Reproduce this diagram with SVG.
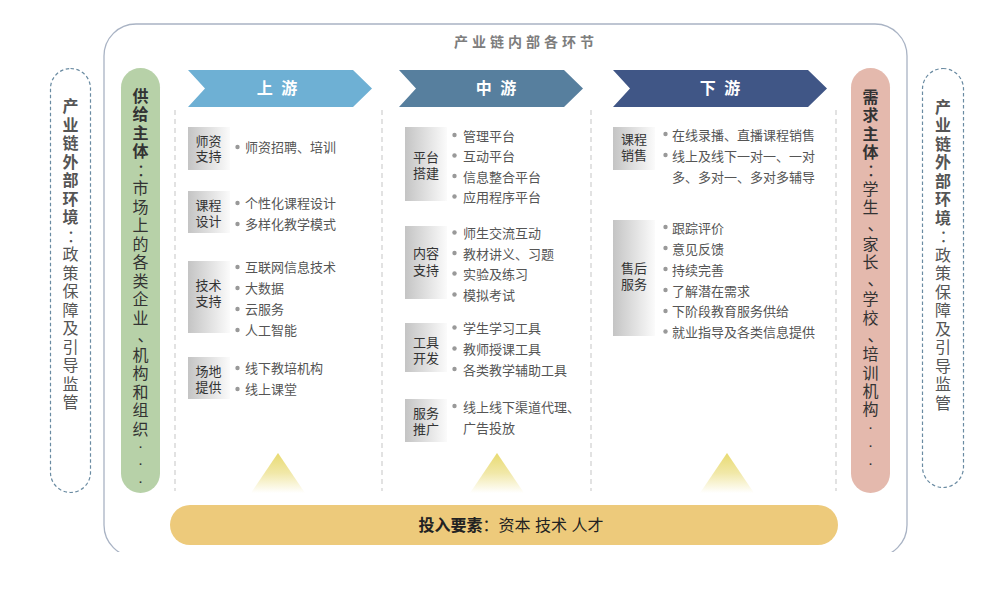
<svg xmlns="http://www.w3.org/2000/svg" width="1006" height="592" viewBox="0 0 1006 592">
<defs>
<linearGradient id="gBox" x1="0" y1="0" x2="1" y2="0">
<stop offset="0" stop-color="#c4c4c4"/>
<stop offset="1" stop-color="#fbfbfb"/>
</linearGradient>
<linearGradient id="gTri" x1="0" y1="0" x2="0" y2="1">
<stop offset="0" stop-color="#e8da70"/>
<stop offset="0.5" stop-color="#f1e8a8"/>
<stop offset="1" stop-color="#ffffff"/>
</linearGradient>
<clipPath id="clipFrame"><rect x="0" y="0" width="1006" height="552"/></clipPath>
</defs>
<style>
text{font-family:"Liberation Sans","Noto Sans CJK SC",sans-serif;}
.frame{fill:none;stroke:#a9b3c4;stroke-width:1.3;}
.outer{fill:#fff;stroke:#6a8ba2;stroke-width:1.2;stroke-dasharray:3.5 2.5;}
.vline{stroke:#cfcfcf;stroke-width:1.2;stroke-dasharray:5 4;}
.box{fill:url(#gBox);}
.cat{font-size:13px;fill:#333;text-anchor:middle;}
.item{font-size:13px;fill:#555;}
.dot{fill:#999;}
.vt{font-size:16px;text-anchor:middle;}
.vdots{font-size:11px;font-weight:bold;text-anchor:middle;fill:#333;}
.vgray{fill:#555;}
.vdark{fill:#333;}
.b{font-weight:bold;}
.chev{font-size:16px;font-weight:bold;fill:#fff;text-anchor:middle;letter-spacing:2px;}
.tri{fill:url(#gTri);}
</style>

<g id="frame" clip-path="url(#clipFrame)">
<rect class="frame" x="104" y="24" width="803" height="533" rx="32" ry="32"/>
</g>
<text id="title" x="454" y="47" style="font-size:14px;font-weight:bold;fill:#7d7d7d;letter-spacing:4px;">产业链内部各环节</text>

<g id="connectors">
<line class="vline" x1="175" y1="110" x2="175" y2="491"/>
<line class="vline" x1="382" y1="110" x2="382" y2="491"/>
<line class="vline" x1="591" y1="110" x2="591" y2="491"/>
<line class="vline" x1="836" y1="110" x2="836" y2="491"/>
</g>

<g id="ext-left">
<rect class="outer" x="50.5" y="68.5" width="40" height="424" rx="20" ry="20"/>
<text class="vt vgray">
<tspan class="b" x="70.5" y="112">产</tspan><tspan class="b" x="70.5" y="130.5">业</tspan><tspan class="b" x="70.5" y="149">链</tspan><tspan class="b" x="70.5" y="167.5">外</tspan><tspan class="b" x="70.5" y="186">部</tspan><tspan class="b" x="70.5" y="204.5">环</tspan><tspan class="b" x="70.5" y="223">境</tspan><tspan x="75" y="241.5">：</tspan><tspan x="70.5" y="260">政</tspan><tspan x="70.5" y="278.5">策</tspan><tspan x="70.5" y="297">保</tspan><tspan x="70.5" y="315.5">障</tspan><tspan x="70.5" y="334">及</tspan><tspan x="70.5" y="352.5">引</tspan><tspan x="70.5" y="371">导</tspan><tspan x="70.5" y="389.5">监</tspan><tspan x="70.5" y="408">管</tspan>
</text>
</g>

<g id="supply">
<rect x="121" y="68" width="39" height="425" rx="19.5" ry="19.5" fill="#b7d1a8"/>
<text class="vt vdark">
<tspan class="b" x="140.5" y="101.5">供</tspan><tspan class="b" x="140.5" y="120">给</tspan><tspan class="b" x="140.5" y="138.5">主</tspan><tspan class="b" x="140.5" y="157">体</tspan><tspan x="145" y="175.5">：</tspan><tspan x="140.5" y="194">市</tspan><tspan x="140.5" y="212.5">场</tspan><tspan x="140.5" y="231">上</tspan><tspan x="140.5" y="249.5">的</tspan><tspan x="140.5" y="268">各</tspan><tspan x="140.5" y="286.5">类</tspan><tspan x="140.5" y="305">企</tspan><tspan x="140.5" y="323.5">业</tspan><tspan x="145.5" y="341">、</tspan><tspan x="140.5" y="360.5">机</tspan><tspan x="140.5" y="379">构</tspan><tspan x="140.5" y="397.5">和</tspan><tspan x="140.5" y="416">组</tspan><tspan x="140.5" y="434.5">织</tspan>
</text>
<text class="vdots"><tspan x="140.5" y="447.5">.</tspan><tspan x="140.5" y="465">.</tspan><tspan x="140.5" y="482.5">.</tspan></text>
</g>

<g id="demand">
<rect x="851" y="68" width="39" height="425" rx="19.5" ry="19.5" fill="#e4b9ad"/>
<text class="vt vdark">
<tspan class="b" x="870.5" y="102.5">需</tspan><tspan class="b" x="870.5" y="121">求</tspan><tspan class="b" x="870.5" y="139.5">主</tspan><tspan class="b" x="870.5" y="158">体</tspan><tspan x="875" y="176">：</tspan><tspan x="870.5" y="194.5">学</tspan><tspan x="870.5" y="213">生</tspan><tspan x="875.5" y="230">、</tspan><tspan x="870.5" y="249.5">家</tspan><tspan x="870.5" y="268">长</tspan><tspan x="875.5" y="285">、</tspan><tspan x="870.5" y="305">学</tspan><tspan x="870.5" y="323.5">校</tspan><tspan x="875.5" y="340.5">、</tspan><tspan x="870.5" y="360">培</tspan><tspan x="870.5" y="378.5">训</tspan><tspan x="870.5" y="397">机</tspan><tspan x="870.5" y="415">构</tspan>
</text>
<text class="vdots"><tspan x="870.5" y="429">.</tspan><tspan x="870.5" y="447">.</tspan><tspan x="870.5" y="465">.</tspan></text>
</g>

<g id="ext-right">
<rect class="outer" x="922.5" y="68.5" width="41" height="419" rx="20.5" ry="20.5"/>
<text class="vt vgray">
<tspan class="b" x="943" y="112.5">产</tspan><tspan class="b" x="943" y="131">业</tspan><tspan class="b" x="943" y="149.5">链</tspan><tspan class="b" x="943" y="168">外</tspan><tspan class="b" x="943" y="186.5">部</tspan><tspan class="b" x="943" y="205">环</tspan><tspan class="b" x="943" y="223.5">境</tspan><tspan x="947.5" y="242">：</tspan><tspan x="943" y="260.5">政</tspan><tspan x="943" y="279">策</tspan><tspan x="943" y="297.5">保</tspan><tspan x="943" y="316">障</tspan><tspan x="943" y="334.5">及</tspan><tspan x="943" y="353">引</tspan><tspan x="943" y="371.5">导</tspan><tspan x="943" y="390">监</tspan><tspan x="943" y="408.5">管</tspan>
</text>
</g>

<g id="upstream-head">
<polygon points="188,70 353,70 372,88.5 353,107 188,107 205,88.5" fill="#6eb0d4"/>
<text class="chev" x="278" y="94">上 游</text>
</g>
<g id="midstream-head">
<polygon points="399,70 564,70 583,88.5 564,107 399,107 416,88.5" fill="#577f9e"/>
<text class="chev" x="497" y="94">中 游</text>
</g>
<g id="downstream-head">
<polygon points="613,70 808,70 827,88.5 808,107 613,107 630,88.5" fill="#405686"/>
<text class="chev" x="721" y="94">下 游</text>
</g>

<g id="up-teacher">
<rect class="box" x="188" y="127" width="42" height="43"/>
<text class="cat"><tspan x="208.5" y="145.5">师资</tspan><tspan x="208.5" y="161">支持</tspan></text>
<circle class="dot" cx="237.5" cy="147" r="2.2"/>
<text class="item" x="245" y="152">师资招聘、培训</text>
</g>
<g id="up-course">
<rect class="box" x="188" y="191" width="42" height="42"/>
<text class="cat"><tspan x="208.5" y="210">课程</tspan><tspan x="208.5" y="226">设计</tspan></text>
<circle class="dot" cx="237.5" cy="203" r="2.2"/>
<circle class="dot" cx="237.5" cy="224" r="2.2"/>
<text class="item"><tspan x="245" y="208">个性化课程设计</tspan><tspan x="245" y="229">多样化教学模式</tspan></text>
</g>
<g id="up-tech">
<rect class="box" x="188" y="261" width="42" height="72"/>
<text class="cat"><tspan x="208.5" y="290">技术</tspan><tspan x="208.5" y="305.5">支持</tspan></text>
<circle class="dot" cx="237.5" cy="267" r="2.2"/>
<circle class="dot" cx="237.5" cy="288" r="2.2"/>
<circle class="dot" cx="237.5" cy="309" r="2.2"/>
<circle class="dot" cx="237.5" cy="330" r="2.2"/>
<text class="item"><tspan x="245" y="272">互联网信息技术</tspan><tspan x="245" y="293">大数据</tspan><tspan x="245" y="314">云服务</tspan><tspan x="245" y="335">人工智能</tspan></text>
</g>
<g id="up-venue">
<rect class="box" x="188" y="357" width="42" height="42"/>
<text class="cat"><tspan x="208.5" y="376">场地</tspan><tspan x="208.5" y="391.5">提供</tspan></text>
<circle class="dot" cx="237.5" cy="368" r="2.2"/>
<circle class="dot" cx="237.5" cy="389" r="2.2"/>
<text class="item"><tspan x="245" y="373">线下教培机构</tspan><tspan x="245" y="394">线上课堂</tspan></text>
</g>

<g id="mid-platform">
<rect class="box" x="405" y="127" width="42" height="74"/>
<text class="cat"><tspan x="426" y="162">平台</tspan><tspan x="426" y="178">搭建</tspan></text>
<circle class="dot" cx="454.5" cy="135" r="2.2"/>
<circle class="dot" cx="454.5" cy="155.5" r="2.2"/>
<circle class="dot" cx="454.5" cy="176" r="2.2"/>
<circle class="dot" cx="454.5" cy="196.5" r="2.2"/>
<text class="item"><tspan x="463" y="141">管理平台</tspan><tspan x="463" y="161">互动平台</tspan><tspan x="463" y="181.5">信息整合平台</tspan><tspan x="463" y="202">应用程序平台</tspan></text>
</g>
<g id="mid-content">
<rect class="box" x="405" y="226" width="42" height="73"/>
<text class="cat"><tspan x="426" y="258">内容</tspan><tspan x="426" y="275">支持</tspan></text>
<circle class="dot" cx="454.5" cy="232.5" r="2.2"/>
<circle class="dot" cx="454.5" cy="253" r="2.2"/>
<circle class="dot" cx="454.5" cy="273.5" r="2.2"/>
<circle class="dot" cx="454.5" cy="294.5" r="2.2"/>
<text class="item"><tspan x="463" y="238">师生交流互动</tspan><tspan x="463" y="258.5">教材讲义、习题</tspan><tspan x="463" y="279">实验及练习</tspan><tspan x="463" y="300">模拟考试</tspan></text>
</g>
<g id="mid-tools">
<rect class="box" x="405" y="323" width="42" height="49"/>
<text class="cat"><tspan x="426" y="347">工具</tspan><tspan x="426" y="362.5">开发</tspan></text>
<circle class="dot" cx="454.5" cy="327.5" r="2.2"/>
<circle class="dot" cx="454.5" cy="348.5" r="2.2"/>
<circle class="dot" cx="454.5" cy="369" r="2.2"/>
<text class="item"><tspan x="463" y="333">学生学习工具</tspan><tspan x="463" y="354">教师授课工具</tspan><tspan x="463" y="374.5">各类教学辅助工具</tspan></text>
</g>
<g id="mid-promo">
<rect class="box" x="405" y="399" width="42" height="43"/>
<text class="cat"><tspan x="426" y="418">服务</tspan><tspan x="426" y="434">推广</tspan></text>
<circle class="dot" cx="454.5" cy="406" r="2.2"/>
<text class="item"><tspan x="463" y="411.5">线上线下渠道代理、</tspan><tspan x="463" y="433">广告投放</tspan></text>
</g>

<g id="down-sales">
<rect class="box" x="613" y="127" width="42" height="43"/>
<text class="cat"><tspan x="634" y="144">课程</tspan><tspan x="634" y="160">销售</tspan></text>
<circle class="dot" cx="665.5" cy="134" r="2.2"/>
<circle class="dot" cx="665.5" cy="155" r="2.2"/>
<text class="item"><tspan x="672" y="140">在线录播、直播课程销售</tspan><tspan x="672" y="161">线上及线下一对一、一对</tspan><tspan x="672" y="181.5">多、多对一、多对多辅导</tspan></text>
</g>
<g id="down-after">
<rect class="box" x="613" y="220" width="42" height="116"/>
<text class="cat"><tspan x="634" y="273">售后</tspan><tspan x="634" y="288.5">服务</tspan></text>
<circle class="dot" cx="665.5" cy="227" r="2.2"/>
<circle class="dot" cx="665.5" cy="248" r="2.2"/>
<circle class="dot" cx="665.5" cy="269" r="2.2"/>
<circle class="dot" cx="665.5" cy="290" r="2.2"/>
<circle class="dot" cx="665.5" cy="311" r="2.2"/>
<circle class="dot" cx="665.5" cy="331.5" r="2.2"/>
<text class="item"><tspan x="672" y="232.5">跟踪评价</tspan><tspan x="672" y="253.5">意见反馈</tspan><tspan x="672" y="274.5">持续完善</tspan><tspan x="672" y="295.5">了解潜在需求</tspan><tspan x="672" y="316">下阶段教育服务供给</tspan><tspan x="672" y="337">就业指导及各类信息提供</tspan></text>
</g>

<g id="triangles">
<polygon class="tri" points="278,453 305,493 251,493"/>
<polygon class="tri" points="497,453 524,493 470,493"/>
<polygon class="tri" points="727,453 754,493 700,493"/>
</g>

<g id="inputs">
<rect x="170" y="505" width="668" height="40" rx="20" ry="20" fill="#edca7b"/>
<text x="511" y="531" style="font-size:16px;fill:#222;text-anchor:middle;"><tspan font-weight="bold">投入要素</tspan>：资本 技术 人才</text>
</g>
</svg>
